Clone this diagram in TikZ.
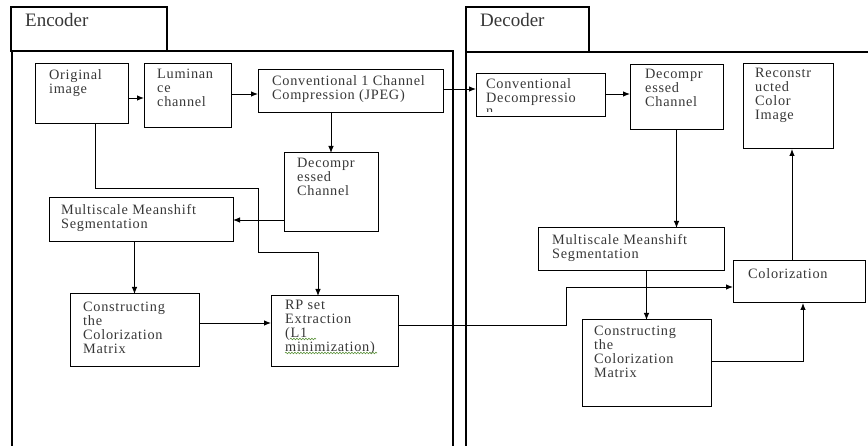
\documentclass[tikz,border=0pt]{standalone}
\usepackage{fontspec}
\setmainfont{Liberation Serif}
\newfontfamily\boxfont{Liberation Serif}[LetterSpace=5]
\usetikzlibrary{arrows.meta}
\usetikzlibrary{decorations.pathmorphing}
\definecolor{txtgray}{RGB}{55,55,55}
\definecolor{spellgreen}{RGB}{96,150,64}
\tikzset{%
	block/.style={draw,line width=1pt,anchor=north west,inner sep=0pt,outer sep=0pt},
	boxtext/.style={anchor=north west,align=left,inner sep=0pt,text=txtgray,font=\boxfont\fontsize{14.3}{13.9}\selectfont},
	title/.style={anchor=north west,inner sep=0pt,text=txtgray,font=\fontsize{19}{22}\selectfont},
	flow/.style={-{Latex[length=7pt,width=5.5pt]},line width=0.9pt},
	frame/.style={line width=1.1pt},
	spell/.style={spellgreen,line width=0.6pt,decorate,decoration={snake,segment length=3pt,amplitude=0.8pt}},
}

\begin{document}
\begin{tikzpicture}[x=1pt,y=-1pt]
	\useasboundingbox (0,0) rectangle (868,446);
	
	%okvirja
	\draw[frame] (11,7) rectangle (167,51);
	\draw[frame] (12,446) -- (12,51) -- (453,51) -- (453,446);
	\draw[frame] (466,7) rectangle (589,52);
	\draw[frame] (466,446) -- (466,52) -- (868,52);
	\node[title] (enc-t) at (25,13) {Encoder};
	\node[title] (dec-t) at (480,13) {Decoder};
	
	%encoder
	\node[block,minimum width=93pt,minimum height=60pt] (orig) at (35,64) {};
	\node[block,minimum width=87pt,minimum height=64pt] (lum) at (144,64) {};
	\node[block,minimum width=185pt,minimum height=43pt] (conv) at (258,70) {};
	\node[block,minimum width=94pt,minimum height=79pt] (dec1) at (284,153) {};
	\node[block,minimum width=184pt,minimum height=44pt] (ms1) at (49,198) {};
	\node[block,minimum width=129pt,minimum height=73pt] (con1) at (70,294) {};
	\node[block,minimum width=127pt,minimum height=71pt] (rp) at (271,296) {};
	
	\node[boxtext] (orig-t) at ([shift={(14pt,-5pt)}]orig.north west) {Original\\image};
	\node[boxtext] (lum-t) at ([shift={(13pt,-5pt)}]lum.north west) {Luminan\\ce\\channel};
	\node[boxtext] (conv-t) at ([shift={(14pt,-5pt)}]conv.north west) {Conventional 1 Channel\\Compression (JPEG)};
	\node[boxtext] (dec1-t) at ([shift={(13pt,-5pt)}]dec1.north west) {Decompr\\essed\\Channel};
	\node[boxtext] (ms1-t) at ([shift={(12pt,-6pt)}]ms1.north west) {Multiscale Meanshift\\Segmentation};
	\node[boxtext] (con1-t) at ([shift={(13pt,-8pt)}]con1.north west) {Constructing\\the\\Colorization\\Matrix};
	\node[boxtext] (rp-t) at ([shift={(14pt,-4pt)}]rp.north west) {RP set\\Extraction\\(L1\\minimization)};
	\draw[spell] ([shift={(19pt,-43pt)}]rp.north west) -- ++(26,0);
	\draw[spell] ([shift={(14pt,-57pt)}]rp.north west) -- ++(92,0);
	
	%decoder
	\node[block,minimum width=129pt,minimum height=43pt] (cdec) at (476,74) {};
	\node[block,minimum width=93pt,minimum height=65pt] (dec2) at (630,65) {};
	\node[block,minimum width=90pt,minimum height=85pt] (rec) at (743,64) {};
	\node[block,minimum width=186pt,minimum height=43pt] (ms2) at (538,228) {};
	\node[block,minimum width=132pt,minimum height=42pt] (col) at (733,261) {};
	\node[block,minimum width=129pt,minimum height=87pt] (con2) at (582,320) {};
	
	\begin{scope}
		\clip (cdec.north west) rectangle ([yshift=5pt]cdec.south east);
		\node[boxtext] (cdec-t) at ([shift={(10pt,-4pt)}]cdec.north west) {Conventional\\Decompressio\\n};
	\end{scope}
	\node[boxtext] (dec2-t) at ([shift={(15pt,-4pt)}]dec2.north west) {Decompr\\essed\\Channel};
	\node[boxtext] (rec-t) at ([shift={(12pt,-4pt)}]rec.north west) {Reconstr\\ucted\\Color\\Image};
	\node[boxtext] (ms2-t) at ([shift={(14pt,-6pt)}]ms2.north west) {Multiscale Meanshift\\Segmentation};
	\node[boxtext] (col-t) at ([shift={(15pt,-7pt)}]col.north west) {Colorization};
	\node[boxtext] (con2-t) at ([shift={(12pt,-6pt)}]con2.north west) {Constructing\\the\\Colorization\\Matrix};
	
	%puscice
	\coordinate (k1) at (258,188);
	\coordinate (k2) at (318,252);
	\coordinate (k3) at (566,287);
	\draw[flow] ([yshift=-4pt]orig.east) -- ([yshift=-4pt]orig.east -| lum.west);
	\draw[flow] ([yshift=2pt]lum.east) -- ([yshift=2pt]lum.east -| conv.west);
	\draw[flow] (dec1.north |- conv.south) -- (dec1.north);
	\draw[flow] (ms1.east -| dec1.west) -- (ms1.east);
	\draw[flow] ([xshift=13.5pt]orig.south) |- (k1) |- (k2) -- (k2 |- rp.north);
	\draw[flow] (con1.north |- ms1.south) -- (con1.north);
	\draw[flow] ([yshift=7.5pt]con1.east) -- ([yshift=7.5pt]con1.east -| rp.west);
	\draw[flow] ([yshift=6.5pt]rp.east) -| (k3) -- (k3 -| col.west);
	\draw[flow] ([yshift=2.5pt]conv.east) -- ([yshift=2.5pt]conv.east -| cdec.west);
	\draw[flow] ([yshift=1.5pt]cdec.east) -- ([yshift=1.5pt]cdec.east -| dec2.west);
	\draw[flow] (dec2.south) -- (dec2.south |- ms2.north);
	\draw[flow] (con2.north |- ms2.south) -- (con2.north);
	\draw[flow] ([yshift=2.5pt]con2.east) -| ([xshift=4pt]col.south);
	\draw[flow] ([xshift=-7pt]col.north) -- ([xshift=-7pt]col.north |- rec.south);
\end{tikzpicture}
\end{document}
